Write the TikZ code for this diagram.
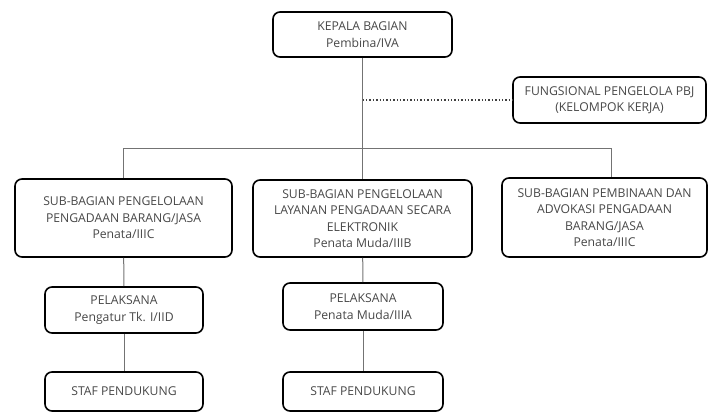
\documentclass[tikz,border=0pt]{standalone}
\usepackage{fontspec}
\setmainfont{Open Sans}

\begin{document}
\begin{tikzpicture}
            [x=1pt,y=-1pt,thick,
             every node/.style={draw=black,line width=1.6pt,rounded corners=7pt,align=center,
               text=black!72,inner sep=0pt,font=\fontsize{12.2}{16.5}\selectfont},
             conn/.style={draw=black!55,line width=1pt}]
            \useasboundingbox (0,0) rectangle (709,412);
            \node[minimum width=179pt,minimum height=45pt] (KB) at (362.5,34.5) {KEPALA BAGIAN\\Pembina/IVA};
            \node[minimum width=193pt,minimum height=46pt] (FP) at (609.5,100) {FUNGSIONAL PENGELOLA PBJ\\(KELOMPOK KERJA)};
            \node[minimum width=217pt,minimum height=78pt] (S1) at (123.5,218) {SUB-BAGIAN PENGELOLAAN\\PENGADAAN BARANG/JASA\\Penata/IIIC};
            \node[minimum width=219pt,minimum height=77pt] (S2) at (362.5,218.5) {SUB-BAGIAN PENGELOLAAN\\LAYANAN PENGADAAN SECARA\\ELEKTRONIK\\Penata Muda/IIIB};
            \node[minimum width=205pt,minimum height=79pt] (S3) at (604.5,217.5) {SUB-BAGIAN PEMBINAAN DAN\\ADVOKASI PENGADAAN\\BARANG/JASA\\Penata/IIIC};
            \node[minimum width=158pt,minimum height=46pt] (P1) at (124,310) {PELAKSANA\\Pengatur Tk. I/IID};
            \node[minimum width=160pt,minimum height=47pt] (P2) at (363,306.5) {PELAKSANA\\Penata Muda/IIIA};
            \node[minimum width=158pt,minimum height=39pt] (T1) at (124,391.5) {STAF PENDUKUNG};
            \node[minimum width=160pt,minimum height=39pt] (T2) at (363,391.5) {STAF PENDUKUNG};

            % bar under the head
            \coordinate (bL) at (123.5,148);
            \coordinate (bR) at (611,148);
            \draw[conn] (KB.south) -- (KB.south |- bL);
            \draw[conn] (bL) -- (bR);
            \draw[conn] (bL) -- (S1.north);
            \draw[conn] (S2.north |- bL) -- (S2.north);
            \draw[conn] (bR) -- (bR |- S3.north);

            % working group
            \draw[black!75,line width=1.4pt,dotted] (KB.south |- FP.west) -- (FP.west);

            % columns
            \draw[conn] (S1) -- (P1);
            \draw[conn] (P1) -- (T1);
            \draw[conn] (S2) -- (P2);
            \draw[conn] (P2) -- (T2);
        \end{tikzpicture}
\end{document}
